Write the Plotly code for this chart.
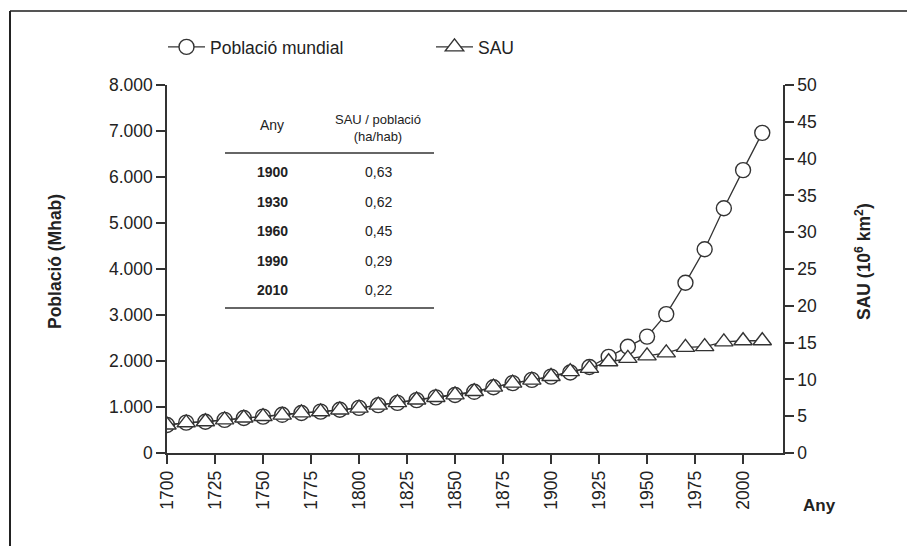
import plotly.graph_objects as go

years = [1700, 1710, 1720, 1730, 1740, 1750, 1760, 1770, 1780, 1790,
         1800, 1810, 1820, 1830, 1840, 1850, 1860, 1870, 1880, 1890,
         1900, 1910, 1920, 1930, 1940, 1950, 1960, 1970, 1980, 1990,
         2000, 2010]
population = [610, 660, 680, 720, 760, 790, 830, 870, 900, 940,
              980, 1040, 1090, 1150, 1210, 1260, 1330, 1430, 1520, 1590,
              1660, 1750, 1870, 2090, 2310, 2530, 3020, 3700, 4430, 5320,
              6150, 6960]
sau = [3.8, 4.1, 4.25, 4.5, 4.75, 4.95, 5.15, 5.45, 5.6, 5.85,
       6.1, 6.5, 6.85, 7.2, 7.55, 7.9, 8.35, 8.95, 9.5, 9.9,
       10.4, 11.05, 11.5, 12.4, 12.85, 13.2, 13.6, 14.35, 14.45, 15.1,
       15.25, 15.25]

x_ticks = [1700, 1725, 1750, 1775, 1800, 1825, 1850, 1875, 1900, 1925, 1950, 1975, 2000]

table_years = ["1900", "1930", "1960", "1990", "2010"]
table_ratio = ["0,63", "0,62", "0,45", "0,29", "0,22"]

FONT = "Liberation Sans, Arial, Helvetica, sans-serif"
INK = "#222222"
LINE = "#333333"

W, H = 907, 546
L, R, T, B = 167, 124, 85, 93
PW, PH = W - L - R, H - T - B


def px(X):
    return (X - L) / PW


def py(Y):
    return (H - B - Y) / PH


fig = go.Figure()
fig.add_trace(go.Scatter(
    x=years, y=population, name="Població mundial", mode="lines+markers",
    line=dict(color=LINE, width=1.3),
    marker=dict(symbol="circle", size=15, color="white", line=dict(color=LINE, width=1.4)),
))
fig.add_trace(go.Scatter(
    x=years, y=sau, name="SAU", mode="lines+markers", yaxis="y2",
    line=dict(color=LINE, width=1.3),
    marker=dict(symbol="triangle-up", size=16, color="white", line=dict(color=LINE, width=1.4)),
))

shapes = []
annotations = []


def note(text, X, Y, size, angle=0):
    annotations.append(dict(text=text, x=px(X), y=py(Y), xref="paper", yref="paper", showarrow=False,
                            xanchor="center", yanchor="middle", textangle=angle,
                            font=dict(family=FONT, size=size, color=INK)))


# frame lines (top and left)
shapes.append(dict(type="line", xref="paper", yref="paper", x0=px(10), x1=px(907), y0=py(11), y1=py(11),
                   line=dict(color="#555555", width=2)))
shapes.append(dict(type="line", xref="paper", yref="paper", x0=px(10), x1=px(10), y0=py(11), y1=py(546),
                   line=dict(color="#222222", width=2)))

# table
col1, col2 = 272, 378
note("Any", col1, 125, 14)
note("SAU / població<br>(ha/hab)", col2, 128, 13)
shapes.append(dict(type="line", xref="paper", yref="paper", x0=px(225), x1=px(434), y0=py(153), y1=py(153),
                   line=dict(color=LINE, width=1.5)))
shapes.append(dict(type="line", xref="paper", yref="paper", x0=px(225), x1=px(434), y0=py(308), y1=py(308),
                   line=dict(color=LINE, width=1.5)))
for i, (yr, rt) in enumerate(zip(table_years, table_ratio)):
    yy = 172 + i * 29.5
    note("<b>%s</b>" % yr, col1, yy, 14)
    note(rt, col2, yy, 14)

# axis titles
note("<b>Població (Mhab)</b>", 55, 262, 17.5, -90)
note("<b>SAU (10<sup>6</sup> km<sup>2</sup>)</b>", 863, 262, 17.5, -90)
note("<b>Any</b>", 819, 505, 17)

axis_common = dict(showline=True, linecolor=LINE, linewidth=1.5, ticks="outside", ticklen=9,
                   tickcolor=LINE, tickwidth=1.5, showgrid=False, zeroline=False, automargin=False,
                   tickfont=dict(family=FONT, size=17.5, color=INK))

fig.update_layout(
    width=W, height=H,
    margin=dict(l=L, r=R, t=T, b=B, autoexpand=False),
    paper_bgcolor="white", plot_bgcolor="white",
    separators=",.",
    showlegend=True,
    legend=dict(orientation="h", x=px(163), y=py(47), xanchor="left", yanchor="middle",
                font=dict(family=FONT, size=17.5, color=INK), itemwidth=37, entrywidth=216,
                bgcolor="rgba(0,0,0,0)"),
    xaxis=dict(range=[1700, 2020.8], tickvals=x_ticks, tickangle=-90, **axis_common),
    yaxis=dict(range=[0, 8000], dtick=1000, tickformat=",d", **axis_common),
    yaxis2=dict(range=[0, 50], dtick=5, overlaying="y", side="right", **axis_common),
    shapes=shapes,
    annotations=annotations,
)

fig.write_html("out.html", config={"displayModeBar": False},
               post_script="document.body.style.margin='0px';")
